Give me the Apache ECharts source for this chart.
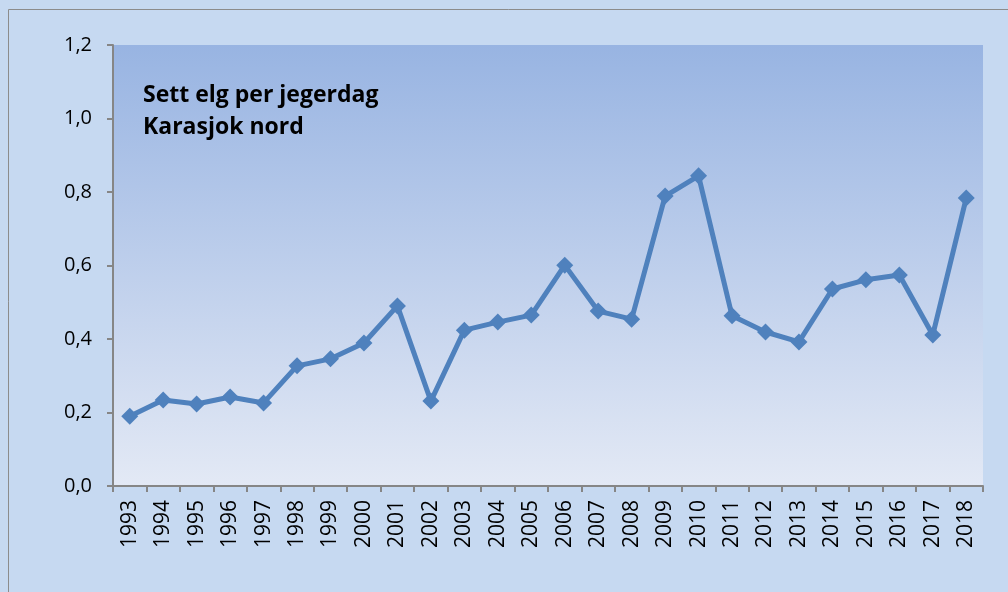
<!DOCTYPE html>
<html><head><meta charset="utf-8">
<script src="https://cdn.jsdelivr.net/npm/echarts@6/dist/echarts.min.js"></script>
<style>html,body{margin:0;padding:0;background:#c6d9f1;}#c{width:1008px;height:592px;}</style>
</head><body><div id="c"></div>
<script>
const years = ['1993','1994','1995','1996','1997','1998','1999','2000','2001','2002','2003','2004','2005','2006','2007','2008','2009','2010','2011','2012','2013','2014','2015','2016','2017','2018'];
const values = [0.190,0.234,0.223,0.242,0.226,0.327,0.346,0.389,0.490,0.231,0.424,0.446,0.465,0.601,0.476,0.454,0.789,0.844,0.463,0.419,0.392,0.536,0.561,0.574,0.411,0.784];
const titleLines = ['Sett elg per jegerdag','Karasjok nord'];
const yTicks = {min:0, max:1.2, interval:0.2};

const chart = echarts.init(document.getElementById('c'), null, {renderer:'canvas'});
const font = '"Open Sans", "DejaVu Sans", sans-serif';
chart.setOption({
  animation:false,
  backgroundColor:'#c6d9f1',
  graphic:[
    {type:'rect', left:6, top:7, shape:{width:1010, height:600}, style:{fill:'none', stroke:'#8c8c8c', lineWidth:1}, z:0},
    {type:'text', left:143, top:79, style:{text:titleLines.join('\n'), font:'bold 23px ' + font, fill:'#000', lineHeight:32}, z:10}
  ],
  grid:{left:113, top:45, width:870, height:441, show:true, borderWidth:0,
    backgroundColor:new echarts.graphic.LinearGradient(0,0,0,1,[{offset:0,color:'#98b4e2'},{offset:1,color:'#e3e9f5'}])},
  xAxis:{type:'category', data:years, boundaryGap:true,
    axisLine:{lineStyle:{color:'#868686', width:2}},
    axisTick:{show:true, length:6, inside:false, lineStyle:{color:'#868686', width:2}},
    axisLabel:{rotate:90, color:'#000', fontSize:21, fontFamily:font, margin:14, interval:0}},
  yAxis:{type:'value', min:yTicks.min, max:yTicks.max, interval:yTicks.interval,
    axisLine:{show:true, lineStyle:{color:'#868686', width:2}},
    axisTick:{show:true, length:6, lineStyle:{color:'#868686', width:2}},
    splitLine:{show:false},
    axisLabel:{color:'#000', fontSize:20, fontFamily:font, margin:21,
      formatter:v=>v.toFixed(1).replace('.',',')}},
  series:[{type:'line', data:values, symbol:'diamond', symbolSize:17,
    lineStyle:{color:'#4f81bd', width:5}, itemStyle:{color:'#4f81bd'}}]
});
</script></body></html>
